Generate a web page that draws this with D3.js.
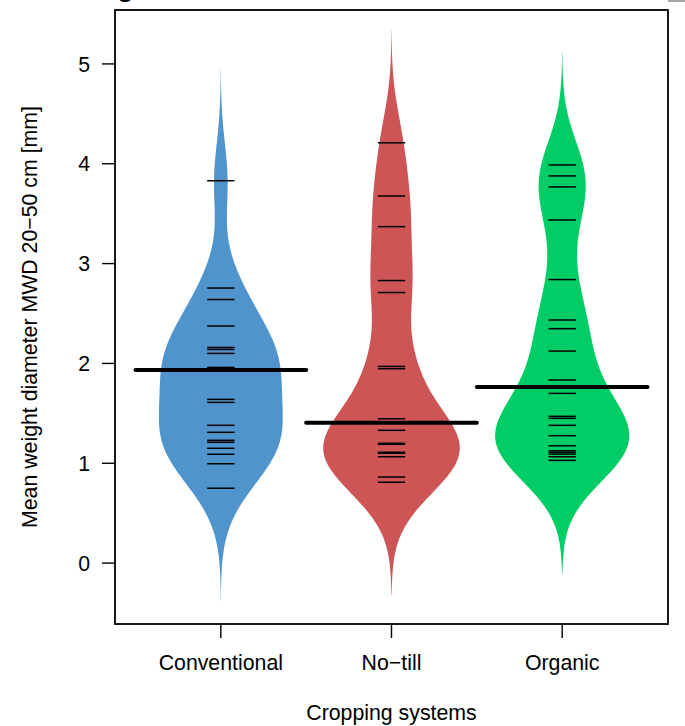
<!DOCTYPE html>
<html>
<head>
<meta charset="utf-8">
<script src="https://cdn.jsdelivr.net/npm/d3@7"></script>
<style>
  body { margin: 0; background: #fff; }
  svg text { font-family: "Liberation Sans", Arial, sans-serif; }
</style>
</head>
<body>
<div id="chart"></div>
<script>
var groups = ["Conventional", "No\u2212till", "Organic"];
var colors = ["#4F94CD", "#CD5555", "#00CD66"];

var conventional = [3.83, 2.755, 2.64, 2.375, 2.16, 2.14, 2.10, 1.96, 1.95, 1.94,
  1.64, 1.61, 1.38, 1.31, 1.23, 1.21, 1.15, 1.09, 0.995, 0.75];
var notill = [4.21, 3.677, 3.37, 2.83, 2.71, 1.97, 1.947, 1.446, 1.33, 1.20, 1.19,
  1.11, 1.10, 1.065, 0.862, 0.81];
var organic = [3.988, 3.878, 3.768, 3.437, 2.84, 2.435, 2.348, 2.124, 1.834, 1.70,
  1.47, 1.45, 1.38, 1.276, 1.175, 1.125, 1.109, 1.092, 1.065, 1.029];

// bold group line
var beanLines = [1.934, 1.406, 1.764];

var yTicks = [0, 1, 2, 3, 4, 5];
var bandwidth = 0.377;
var fontSize = 21.3;

var width = 685, height = 726;
var svg = d3.select("#chart").append("svg")
  .attr("width", width).attr("height", height);

var x = d3.scaleLinear().domain([0.38, 3.62]).range([115, 668]);
var y = d3.scaleLinear().domain([-0.61, 5.54]).range([624, 10]);

var allData = [conventional, notill, organic];

// gaussian kde, cut at 3 bandwidths like beanplot
var kde = function (data) {
  var lo = d3.min(data) - 3 * bandwidth, hi = d3.max(data) + 3 * bandwidth;
  var pts = [];
  for (var i = 0; i <= 200; i++) {
    var v = lo + (hi - lo) * i / 200;
    var s = d3.sum(data, function (d) {
      var u = (v - d) / bandwidth;
      return Math.exp(-0.5 * u * u);
    });
    pts.push([v, s / (data.length * bandwidth * Math.sqrt(2 * Math.PI))]);
  }
  return pts;
};

var dens = allData.map(kde);
var maxD = d3.max(dens, function (p) { return d3.max(p, function (d) { return d[1]; }); });
var half = d3.scaleLinear().domain([0, maxD]).range([0, 0.4]);

var area = d3.area()
  .curve(d3.curveLinear)
  .y(function (d) { return y(d[0]); });

svg.append("g").selectAll("path")
  .data(dens)
  .enter()
  .append("path")
  .attr("d", function (p, i) {
    return area
      .x0(function (d) { return x(i + 1 - half(d[1])); })
      .x1(function (d) { return x(i + 1 + half(d[1])); })(p);
  })
  .attr("fill", function (p, i) { return colors[i]; })
  .attr("stroke", "none");

// short lines for each observation
allData.forEach(function (data, i) {
  svg.append("g").selectAll("line")
    .data(data)
    .enter()
    .append("line")
    .attr("x1", x(i + 1 - 0.08))
    .attr("x2", x(i + 1 + 0.08))
    .attr("y1", function (d) { return y(d); })
    .attr("y2", function (d) { return y(d); })
    .attr("stroke", "#000")
    .attr("stroke-width", 1.5);
});

svg.append("g").selectAll("line")
  .data(beanLines)
  .enter()
  .append("line")
  .attr("x1", function (d, i) { return x(i + 1 - 0.5); })
  .attr("x2", function (d, i) { return x(i + 1 + 0.5); })
  .attr("y1", function (d) { return y(d); })
  .attr("y2", function (d) { return y(d); })
  .attr("stroke", "#000")
  .attr("stroke-width", 4)
  .attr("stroke-linecap", "round");

// box
svg.append("rect")
  .attr("x", 115).attr("y", 10)
  .attr("width", 553).attr("height", 614)
  .attr("fill", "none")
  .attr("stroke", "#000")
  .attr("stroke-width", 1.8);

// y axis
var yAxis = svg.append("g");
yAxis.selectAll("line")
  .data(yTicks)
  .enter()
  .append("line")
  .attr("x1", 102).attr("x2", 115)
  .attr("y1", function (d) { return y(d); })
  .attr("y2", function (d) { return y(d); })
  .attr("stroke", "#000")
  .attr("stroke-width", 1.4);
yAxis.selectAll("text")
  .data(yTicks)
  .enter()
  .append("text")
  .attr("x", 90)
  .attr("y", function (d) { return y(d); })
  .attr("dy", "0.36em")
  .attr("text-anchor", "end")
  .attr("font-size", fontSize)
  .text(function (d) { return d; });

// x axis
var xAxis = svg.append("g");
xAxis.selectAll("line")
  .data(groups)
  .enter()
  .append("line")
  .attr("x1", function (d, i) { return x(i + 1); })
  .attr("x2", function (d, i) { return x(i + 1); })
  .attr("y1", 624).attr("y2", 638)
  .attr("stroke", "#000")
  .attr("stroke-width", 1.4);
xAxis.selectAll("text")
  .data(groups)
  .enter()
  .append("text")
  .attr("x", function (d, i) { return x(i + 1); })
  .attr("y", 670)
  .attr("text-anchor", "middle")
  .attr("font-size", fontSize)
  .text(function (d) { return d; });

svg.append("text")
  .attr("x", x(2)).attr("y", 720)
  .attr("text-anchor", "middle")
  .attr("font-size", fontSize)
  .text("Cropping systems");

svg.append("text")
  .attr("transform", "translate(37," + (10 + 624) / 2 + ") rotate(-90)")
  .attr("text-anchor", "middle")
  .attr("font-size", fontSize)
  .text("Mean weight diameter MWD 20\u221250 cm [mm]");

// clipped bits from the page above the figure
svg.append("text")
  .attr("x", 117).attr("y", -4)
  .attr("font-size", 28)
  .attr("font-weight", "bold")
  .text("g");
svg.append("line")
  .attr("x1", 668).attr("x2", 685)
  .attr("y1", 1).attr("y2", 1)
  .attr("stroke", "#888")
  .attr("stroke-width", 1.5);
</script>
</body>
</html>
